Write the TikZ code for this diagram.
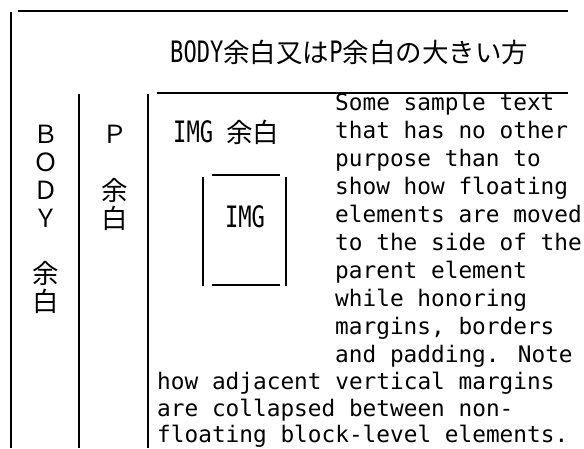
\documentclass[tikz,border=0pt]{standalone}
\usepackage{fontspec}
\newfontfamily\cjkfam{Noto Sans CJK JP}
\newfontfamily\monofam{DejaVu Sans Mono}
\newfontfamily\tallfam[FakeStretch=0.75]{DejaVu Sans Mono}
\newcommand\tmfont{\tallfam\fontsize{29.5}{30}\selectfont}
\newcommand\cjfont{\cjkfam\fontsize{26.5}{28}\selectfont}
\newcommand\cjsmall{\cjkfam\fontsize{25}{28}\selectfont}
\begin{document}
\begin{tikzpicture}[x=1pt,y=-1pt,
  rule/.style={line width=1.6pt,line cap=butt,black},
  para/.style={anchor=base west,inner sep=0pt,font=\monofam\fontsize{22.76}{28}\selectfont},
  vchar/.style={anchor=base,inner sep=0pt,font=\cjfont},
  vlatin/.style={anchor=base,inner sep=0pt,font=\cjsmall},
  label/.style={anchor=base west,inner sep=0pt}]
\fill[white] (0,0) rectangle (584,448);
\useasboundingbox (0,0) rectangle (584,448);
% frame lines
\coordinate (bodyTL) at (18,11);
\coordinate (bodyTR) at (568,11);
\coordinate (bodyL1) at (11,12);
\coordinate (bodyL2) at (11,448);
\coordinate (pL1) at (79,94);
\coordinate (pL2) at (79,448);
\coordinate (imgL1) at (148,94);
\coordinate (imgL2) at (148,448);
\coordinate (pT1) at (157,93);
\coordinate (pT2) at (568,93);
\draw[rule] (bodyTL) -- (bodyTR);
\draw[rule] (bodyL1) -- (bodyL2);
\draw[rule] (pL1) -- (pL2);
\draw[rule] (imgL1) -- (imgL2);
\draw[rule] (pT1) -- (pT2);
% IMG box (four separate borders)
\coordinate (bxT1) at (212,175); \coordinate (bxT2) at (280,175);
\coordinate (bxB1) at (212,285); \coordinate (bxB2) at (280,285);
\coordinate (bxL1) at (203,177); \coordinate (bxL2) at (203,286);
\coordinate (bxR1) at (286,177); \coordinate (bxR2) at (286,286);
\draw[rule] (bxT1) -- (bxT2);
\draw[rule] (bxB1) -- (bxB2);
\draw[rule] (bxL1) -- (bxL2);
\draw[rule] (bxR1) -- (bxR2);
\node[anchor=base,inner sep=0pt,font=\tmfont] (imgtext) at (245,227) {IMG};
% title
\node[label] (title) at (170,62) {\tmfont BODY\cjfont 余白又は\tmfont P\cjfont 余白の大きい方};
% IMG margin label
\node[label] (imglabel) at (173,142) {\tmfont IMG \cjfont 余白};
% BODY column
\node[vlatin] (b1) at (46,143) {Ｂ};
\node[vlatin] (b2) at (46,171) {Ｏ};
\node[vlatin] (b3) at (46,199) {Ｄ};
\node[vlatin] (b4) at (46,227) {Ｙ};
\node[vchar] (b5) at (46,283) {余};
\node[vchar] (b6) at (46,311) {白};
% P column
\node[vlatin] (p1) at (115,143) {Ｐ};
\node[vchar] (p2) at (115,200) {余};
\node[vchar] (p3) at (115,228) {白};
% paragraph
\node[para] (t1) at (335,110) {Some sample text};
\node[para] (t2) at (335,138) {that has no other};
\node[para] (t3) at (335,166) {purpose than to};
\node[para] (t4) at (335,194) {show how floating};
\node[para] (t5) at (335,222) {elements are moved};
\node[para] (t6) at (335,250) {to the side of the};
\node[para] (t7) at (335,278) {parent element};
\node[para] (t8) at (335,306) {while honoring};
\node[para] (t9) at (335,334) {margins, borders};
\node[para] (t10) at (335,362) {and padding. Note};
\node[para] (t11) at (157,389) {how adjacent vertical margins};
\node[para] (t12) at (157,416) {are collapsed between non-};
\node[para] (t13) at (157,442) {floating block-level elements.};
\end{tikzpicture}
\end{document}
